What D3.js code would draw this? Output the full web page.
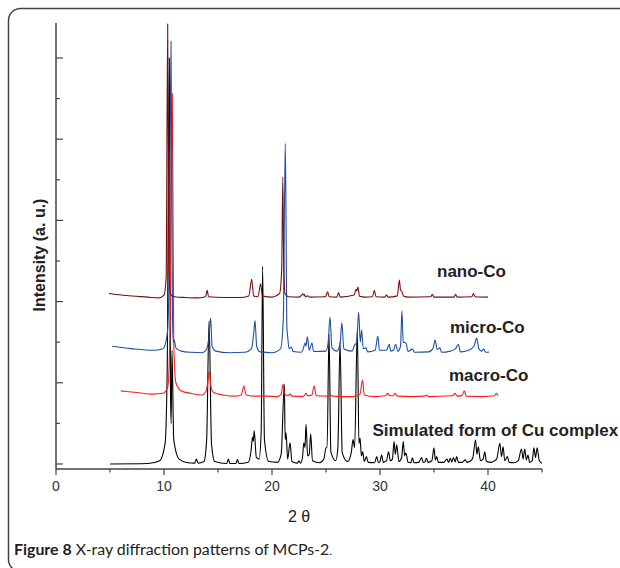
<!DOCTYPE html>
<html><head><meta charset="utf-8">
<script src="https://cdn.jsdelivr.net/npm/d3@7"></script>
<style>
html,body{margin:0;padding:0;background:#fff;}
svg{display:block;}
</style></head>
<body>
<svg id="chart" width="620" height="568"></svg>
<script>
// ---- data (2θ, intensity a.u.) ----
const simulated = [[5.0,0],[8.5,5],[9.6,40],[10.1,250],[10.3,1200],[10.49,5000],[10.6,900],[10.66,500],[10.74,1400],[10.9,300],[11.4,60],[12.2,15],
[12.85,10],[13.0,60],[13.15,10],[13.7,30],[13.95,300],[14.17,1760],[14.4,250],[14.7,30],
[15.8,5],[15.96,60],[16.1,5],[16.65,5],[16.8,55],[16.95,5],
[17.8,20],[18.05,150],[18.2,330],[18.27,280],[18.35,410],[18.55,80],[18.8,60],[19.0,400],[19.13,2435],[19.3,300],[19.7,30],
[20.5,20],[20.85,120],[21.14,985],[21.22,300],[21.3,385],[21.45,60],[21.67,260],[21.85,30],
[22.35,10],[22.5,40],[22.65,10],[22.82,80],[22.95,260],[23.05,200],[23.15,490],[23.3,100],[23.45,120],[23.58,370],[23.75,40],
[24.4,15],[24.8,60],[25.0,200],[25.1,200],[25.28,1600],[25.45,150],[25.9,40],[26.1,200],[26.3,1500],[26.5,140],[27.0,30],
[27.35,150],[27.5,300],[27.65,200],[27.9,1660],[28.05,250],[28.15,320],[28.28,100],[28.4,150],[28.55,30],[28.75,90],[28.9,20],
[29.5,15],[29.7,90],[29.85,15],[30.0,30],[30.15,110],[30.3,20],[30.6,40],[30.8,150],[30.95,40],[31.15,60],[31.3,275],[31.42,120],[31.55,235],[31.75,30],
[32.0,80],[32.16,275],[32.28,100],[32.4,135],[32.6,20],[32.85,15],[33.0,75],[33.15,15],[33.6,20],[33.85,80],[34.0,20],[34.15,25],[34.3,70],[34.45,20],
[34.8,40],[35.0,200],[35.12,50],[35.25,90],[35.4,20],[35.9,20],[36.2,60],[36.35,20],[36.5,70],[36.65,25],[36.8,80],[36.95,25],[37.1,90],[37.25,20],
[37.6,20],[37.9,50],[38.05,20],[38.4,40],[38.6,80],[38.85,295],[38.97,120],[39.1,210],[39.3,40],[39.55,60],[39.7,150],[39.85,30],
[40.3,20],[40.6,40],[40.8,60],[41.1,255],[41.25,90],[41.4,210],[41.55,40],[41.8,90],[41.95,20],[42.4,15],[42.8,40],[43.1,185],[43.25,60],[43.4,185],[43.55,50],
[43.7,110],[43.85,20],[44.1,40],[44.25,200],[44.4,80],[44.55,200],[44.75,40],[45.0,10]];

const macroCo = [[6.0,900],[7.5,880],[9.0,860],[9.9,870],[10.35,950],[10.55,1600],[10.77,4565],[10.9,1500],[11.1,1000],[11.6,900],[12.5,870],[13.5,850],
[13.9,900],[14.05,1000],[14.19,1145],[14.35,950],[14.6,880],[15.5,850],[16.5,835],[17.15,850],[17.4,960],[17.6,850],[18.5,835],[19.5,835],[20.5,830],
[20.85,860],[21.02,980],[21.15,860],[21.5,840],[21.67,860],[21.85,835],[22.8,830],[23.0,845],[23.15,870],[23.3,840],[23.7,850],[23.9,960],[24.1,840],
[25.2,835],[25.43,850],[25.6,835],[26.5,830],[27.5,830],[28.15,860],[28.37,1035],[28.55,850],[29.5,830],[30.5,840],[30.7,870],[30.9,840],[31.2,840],
[31.4,870],[31.6,835],[33.0,830],[34.1,835],[34.3,850],[34.5,830],[36.7,840],[36.95,870],[37.15,835],[37.6,845],[37.8,900],[38.0,835],[39.5,830],
[40.6,840],[40.8,870],[40.9,840]];

const microCo = [[5.2,1450],[7.0,1420],[9.0,1400],[9.9,1420],[10.3,1600],[10.5,2500],[10.65,5205],[10.78,1900],[10.85,1500],[10.95,1525],[11.1,1430],
[11.6,1390],[12.5,1375],[13.5,1370],[13.95,1420],[14.15,1550],[14.32,1796],[14.45,1450],[14.8,1390],[16.0,1370],[17.5,1375],[18.1,1420],[18.3,1600],
[18.43,1765],[18.58,1450],[18.9,1380],[20.0,1370],[20.8,1420],[21.05,1800],[21.23,3950],[21.3,3000],[21.37,1700],[21.45,1575],[21.58,1420],[21.8,1440],
[21.95,1385],[22.7,1375],[22.9,1420],[23.05,1490],[23.15,1450],[23.27,1565],[23.45,1400],[23.7,1490],[23.85,1385],[25.0,1390],[25.2,1500],[25.37,1810],
[25.55,1430],[26.0,1390],[26.3,1480],[26.47,1740],[26.65,1420],[27.4,1390],[27.65,1465],[27.85,1500],[28.02,1870],[28.18,1500],[28.3,1650],[28.45,1420],
[28.7,1430],[28.85,1380],[29.55,1400],[29.8,1575],[29.95,1400],[30.6,1400],[30.85,1475],[31.0,1390],[31.25,1400],[31.45,1475],[31.65,1390],[31.9,1450],
[32.03,1885],[32.15,1500],[32.4,1490],[32.6,1385],[33.0,1415],[33.2,1375],[34.5,1380],[34.9,1420],[35.1,1525],[35.3,1410],[35.55,1430],[35.7,1375],
[36.5,1390],[37.0,1420],[37.25,1475],[37.45,1380],[38.2,1400],[38.7,1450],[38.95,1550],[39.15,1420],[39.4,1390],[39.6,1415],[39.8,1375],[40.1,1380]];

const nanoCo = [[4.9,2100],[6.5,2075],[8.5,2055],[9.5,2045],[10.0,2080],[10.2,2300],[10.34,5420],[10.45,2400],[10.6,2090],[11.0,2060],[12.0,2050],
[13.0,2045],[13.85,2060],[14.0,2140],[14.12,2060],[15.5,2050],[17.0,2050],[17.85,2070],[18.12,2275],[18.3,2070],[18.7,2060],[18.95,2220],[19.1,2070],
[20.0,2055],[20.7,2100],[20.9,2400],[21.0,3535],[21.08,2500],[21.2,2100],[21.5,2060],[22.5,2055],[22.75,2080],[22.84,2095],[22.95,2080],[23.0,2090],
[23.1,2060],[23.3,2070],[23.45,2055],[24.95,2060],[25.15,2120],[25.3,2060],[26.0,2055],[26.17,2110],[26.32,2055],[27.6,2080],[27.78,2150],[27.85,2130],
[27.96,2180],[28.1,2065],[28.6,2055],[29.3,2060],[29.48,2140],[29.62,2060],[30.45,2055],[30.6,2080],[30.75,2055],[31.6,2070],[31.8,2265],[31.9,2140],
[32.0,2130],[32.2,2065],[32.6,2055],[34.7,2060],[34.85,2090],[35.0,2055],[36.85,2055],[37.0,2090],[37.15,2055],[38.5,2060],[38.65,2100],[38.8,2060],[40.0,2055]];

const seriesNames = ["Simulated form of Cu complex","macro-Co","micro-Co","nano-Co"];
const seriesColors = ["#000000","#ff1a1a","#1f4fa3","#7a0c0c"];
const seriesData = [simulated, macroCo, microCo, nanoCo];

const xTicks = [0,5,10,15,20,25,30,35,40,45];
const xLabels = [0,10,20,30,40];
const yTicks = [0,500,1000,1500,2000,2500,3000,3500,4000,4500,5000];

// ---- layout ----
const svg = d3.select("#chart");
const x = d3.scaleLinear().domain([0,45]).range([56,542]);
const y = d3.scaleLinear().domain([-62,5431]).range([469,23]);

// frame
svg.append("rect").attr("x",8.5).attr("y",8.5).attr("width",700).attr("height",563)
  .attr("rx",12).attr("fill","none").attr("stroke","#444").attr("stroke-width",1.5);

// series
const line = d3.line().x(d=>x(d[0])).y(d=>y(d[1])).curve(d3.curveMonotoneX);
seriesData.forEach((s,i)=>{
  svg.append("path").datum(s).attr("d",line).attr("fill","none")
    .attr("stroke",seriesColors[i]).attr("stroke-width",1.1).attr("stroke-linejoin","round");
});

// axes
const xAxis = svg.append("g").attr("transform","translate(0,469)");
xAxis.append("line").attr("x1",56).attr("x2",542).attr("stroke","#444").attr("stroke-width",1.5);
xAxis.selectAll("line.t").data(xTicks).join("line").attr("class","t")
  .attr("x1",d=>x(d)).attr("x2",d=>x(d)).attr("y1",0).attr("y2",d=>d%10===0?6:3.5)
  .attr("stroke","#444").attr("stroke-width",1.2);
xAxis.selectAll("text").data(xLabels).join("text")
  .attr("x",d=>x(d)).attr("y",22).attr("text-anchor","middle")
  .attr("font-family","Liberation Sans, Arial, sans-serif").attr("font-size",14).attr("fill","#333")
  .text(d=>d);

const yAxis = svg.append("g");
yAxis.append("line").attr("x1",56).attr("x2",56).attr("y1",23).attr("y2",469).attr("stroke","#444").attr("stroke-width",1.5);
yAxis.selectAll("line.t").data(yTicks).join("line").attr("class","t")
  .attr("x1",56).attr("x2",d=>d%1000===0?63:60).attr("y1",d=>y(d)).attr("y2",d=>y(d))
  .attr("stroke","#444").attr("stroke-width",1.2);

svg.append("text").attr("transform","translate(44.5,255) rotate(-90)").attr("text-anchor","middle")
  .attr("font-family","Liberation Sans, Arial, sans-serif").attr("font-weight","bold").attr("font-size",16).attr("fill","#222")
  .text("Intensity (a. u.)");
svg.append("text").attr("x",299).attr("y",522).attr("text-anchor","middle")
  .attr("font-family","Liberation Sans, Arial, sans-serif").attr("font-size",16).attr("fill","#222")
  .text("2 θ");

// series labels
const labelPos = [[372.5,435.5],[449,380.5],[450,333],[437,276.5]];
seriesNames.forEach((n,i)=>{
  svg.append("text").attr("x",labelPos[i][0]).attr("y",labelPos[i][1])
    .attr("font-family","Liberation Sans, Arial, sans-serif").attr("font-weight","bold").attr("font-size",17).attr("fill","#222")
    .text(n);
});

// caption
const cap = svg.append("text").attr("x",14).attr("y",555)
  .attr("font-family","Lato, Liberation Sans, sans-serif").attr("font-size",15.9).attr("fill","#222");
cap.append("tspan").attr("font-weight","bold").text("Figure 8");
cap.append("tspan").text(" X-ray diffraction patterns of MCPs-2");
cap.append("tspan").attr("font-size",12).text(".");
</script>
</body></html>
